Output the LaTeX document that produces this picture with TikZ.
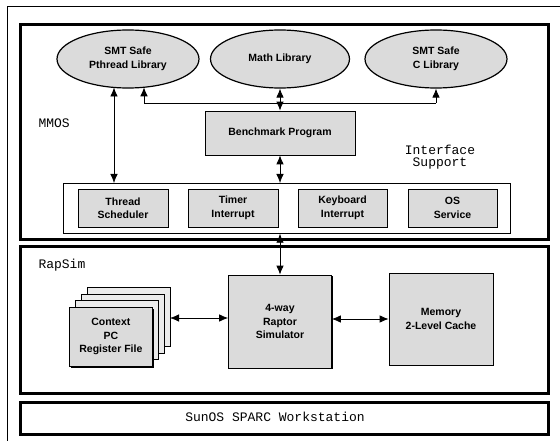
\documentclass[tikz,border=0pt]{standalone}
\usepackage{fontspec}
\setmainfont{Liberation Sans}
\setmonofont{Liberation Mono}
\usetikzlibrary{arrows.meta,shapes.geometric,shadows}

\begin{document}
\begin{tikzpicture}[x=1pt,y=-1pt,
  >={Latex[length=9pt,width=7.5pt]},
  lbl/.style={font=\bfseries\fontsize{10.5}{13.5}\selectfont, align=center},
  lib/.style={lbl, ellipse, draw, line width=1.2pt, fill=black!14, inner sep=0pt},
  blk/.style={lbl, draw, line width=0.7pt, fill=black!14, inner sep=0pt,
    drop shadow={shadow xshift=1.4pt, shadow yshift=-1.4pt, fill=black, opacity=1}},
  page/.style={draw, line width=0.7pt, fill=black!8, inner sep=0pt},
  layer/.style={draw, line width=3pt, inner sep=0pt},
  tag/.style={font=\ttfamily\fontsize{13}{12.5}\selectfont, align=center},
  one/.style={->, line width=0.8pt},
  dbl/.style={<->, line width=0.8pt}
]
\useasboundingbox (0,0) rectangle (560,441);

% outer thin frame (top and left edges in view)
\draw[line width=0.8pt] (560,6) -- (7,6) -- (7,441);

% the three layers
\node[layer, minimum width=528pt, minimum height=215pt, anchor=north west] (mmos) at (19,23) {};
\node[layer, minimum width=528pt, minimum height=147pt, anchor=north west] (rapsim) at (19,245) {};
\node[layer, minimum width=528pt, minimum height=32pt, anchor=north west] (sunos) at (19,401) {};
\node[tag] (sunoslbl) at (275,417) {SunOS SPARC Workstation};

\node[tag, anchor=west] (mmoslbl) at (35,123) {MMOS};
\node[tag, anchor=west] (rapsimlbl) at (35,265) {RapSim};
\node[tag] (iflbl) at (440,157) {Interface\\Support};

% libraries
\node[lib, minimum width=142pt, minimum height=58pt] (pth) at (128,59) {SMT Safe\\Pthread Library};
\node[lib, minimum width=139pt, minimum height=58pt] (math) at (280,59) {Math Library};
\node[lib, minimum width=142pt, minimum height=58pt] (clib) at (436,59) {SMT Safe\\C Library};

% benchmark
\node[blk, minimum width=150pt, minimum height=44pt] (bench) at (280,133) {Benchmark Program};

% interface support
\node[draw, line width=0.7pt, fill=white, minimum width=447pt, minimum height=50pt, anchor=north west] (iface) at (63,183) {};
\node[blk, minimum width=90pt, minimum height=38pt] (sched) at (123,208) {Thread\\Scheduler};
\node[blk, minimum width=90pt, minimum height=38pt] (timer) at (233,208) {Timer\\Interrupt};
\node[blk, minimum width=89pt, minimum height=38pt] (keyb) at (342.5,208) {Keyboard\\Interrupt};
\node[blk, minimum width=89pt, minimum height=38pt] (os) at (452.5,208) {OS\\Service};

% simulator parts
\node[page, minimum width=83pt, minimum height=59pt, anchor=north west] (pg3) at (87,287) {};
\node[page, minimum width=83pt, minimum height=59pt, anchor=north west] (pg2) at (81,294) {};
\node[page, minimum width=83pt, minimum height=59pt, anchor=north west] (pg1) at (75,300) {};
\node[blk, minimum width=83pt, minimum height=59pt, anchor=north west] (ctx) at (69,307) {Context\\PC\\Register File};
\node[blk, minimum width=103pt, minimum height=93pt] (rap) at (280,321.5) {4-way\\Raptor\\Simulator};
\node[blk, minimum width=104pt, minimum height=92pt] (mem) at (441,319) {Memory\\2-Level Cache};

% connector end points on the library ellipses and the stack
\coordinate (pthA) at (114,87.5);
\coordinate (pthB) at (144,87.3);
\coordinate (busL) at (144,103);
\coordinate (busR) at (436,103);
\coordinate (stackR) at (170,318);

% connectors
\draw[line width=0.8pt] (busL) -- (busR);
\draw[one] (busL) -- (pthB);
\draw[one] (busR) -- (clib.south);
\draw[dbl] (math.south) -- (bench.north);
\draw[dbl] (pthA) -- (pthA |- iface.north);
\draw[dbl] (bench.south) -- (bench.south |- iface.north);
\draw[dbl] (iface.south -| rap.north) -- (rap.north);
\draw[dbl] (stackR) -- (stackR -| rap.west);
\draw[dbl] (rap.east |- mem.west) -- (mem.west);
\end{tikzpicture}
\end{document}
